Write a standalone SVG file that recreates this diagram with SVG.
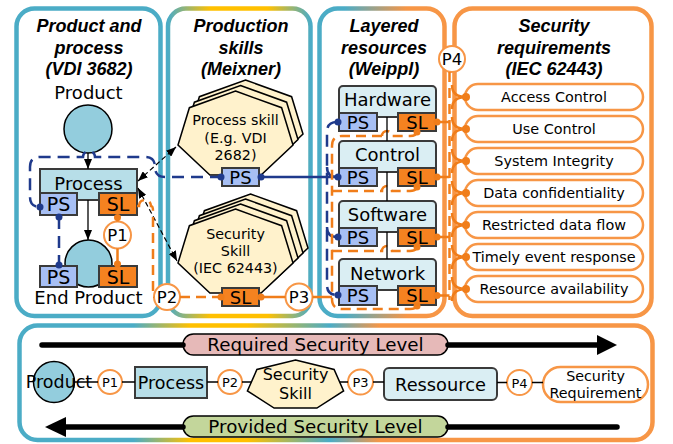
<svg xmlns="http://www.w3.org/2000/svg" width="673" height="444" viewBox="0 0 673 444">
<style>
.tt{font-family:"Liberation Sans",Arial,sans-serif;font-weight:bold;font-style:italic;font-size:18px;text-anchor:middle;fill:#000}
.t{font-family:"DejaVu Sans",Verdana,sans-serif;text-anchor:middle;fill:#000}
.ps{fill:#A7BFF4;stroke:#3A3A3A;stroke-width:2}
.sl{fill:#F58220;stroke:#3A3A3A;stroke-width:2}
.pc{fill:#fff;stroke:#F79646;stroke-width:2}
.req{fill:#fff;stroke:#F79646;stroke-width:2.5}
.res{fill:#DAEEF3;stroke:#3A3A3A;stroke-width:2}
.hex{fill:#FFF2CC;stroke:#000;stroke-width:1.5}
.nv{stroke:#1F3A8C;stroke-width:2.5;fill:none}
.nvd{stroke-dasharray:12 7}
.or{stroke:#F07D1A;stroke-width:2.5;fill:none}
.ord{stroke-dasharray:10 6}
.bd{stroke:#000;stroke-width:1.2;stroke-dasharray:5 3;fill:none}
.bl{stroke:#000;stroke-width:1.3;fill:none}
.nd{fill:#1F3A8C}
.od{fill:#F07D1A}
</style>
<defs>
<linearGradient id="g2" x1="0" y1="0" x2="1" y2="0">
<stop offset="0" stop-color="#4BACC6"/><stop offset="0.3" stop-color="#FFC000"/><stop offset="0.7" stop-color="#FFC000"/><stop offset="1" stop-color="#4BACC6"/>
</linearGradient>
<linearGradient id="g3" x1="0" y1="0" x2="1" y2="0">
<stop offset="0" stop-color="#4BACC6"/><stop offset="0.2" stop-color="#4BACC6"/><stop offset="0.7" stop-color="#F79646"/><stop offset="1" stop-color="#F79646"/>
</linearGradient>
<linearGradient id="g5" x1="0" y1="0" x2="1" y2="0">
<stop offset="0" stop-color="#4BACC6"/><stop offset="0.18" stop-color="#4BACC6"/><stop offset="0.27" stop-color="#FFC000"/><stop offset="0.36" stop-color="#FFC000"/><stop offset="0.49" stop-color="#4BACC6"/><stop offset="0.57" stop-color="#F79646"/><stop offset="1" stop-color="#F79646"/>
</linearGradient>
<polygon id="hep" points="0,-44.2 46.1,-27.5 57.5,9.8 25.6,39.8 -25.6,39.8 -57.5,9.8 -46.1,-27.5"/>
<marker id="ah" markerUnits="userSpaceOnUse" markerWidth="10" markerHeight="8" refX="10" refY="4" orient="auto-start-reverse">
<path d="M0,0 L10,4 L0,8 z" fill="#000"/>
</marker>
</defs>

<g id="panels">
<rect x="16.5" y="8.5" width="144" height="307.5" rx="18" fill="#fff" stroke="#4BACC6" stroke-width="4.5"/>
<rect x="168" y="8.5" width="142.5" height="307.5" rx="18" fill="#fff" stroke="url(#g2)" stroke-width="4.5"/>
<rect x="319.5" y="8.5" width="125" height="307.5" rx="18" fill="#fff" stroke="url(#g3)" stroke-width="4.5"/>
<rect x="454.5" y="8.5" width="197" height="307.5" rx="18" fill="#fff" stroke="#F79646" stroke-width="4.5"/>
<rect x="19.5" y="325.5" width="633" height="114.5" rx="18" fill="#fff" stroke="url(#g5)" stroke-width="4.5"/>
<text class="tt" x="89" y="32">Product and</text>
<text class="tt" x="89" y="53.5">process</text>
<text class="tt" x="89" y="75">(VDI 3682)</text>
<text class="tt" x="241" y="32">Production</text>
<text class="tt" x="241" y="53.5">skills</text>
<text class="tt" x="241" y="75">(Meixner)</text>
<text class="tt" x="384" y="32">Layered</text>
<text class="tt" x="384" y="53.5">resources</text>
<text class="tt" x="384" y="75">(Weippl)</text>
<text class="tt" x="554" y="32">Security</text>
<text class="tt" x="554" y="53.5">requirements</text>
<text class="tt" x="554" y="75">(IEC 62443)</text>
</g>

<g id="product">
<text class="t" x="88.5" y="99" font-size="18">Product</text>
<circle cx="88" cy="129" r="24" fill="#93CDDD" stroke="#000" stroke-width="1.5"/>
</g>
<g id="process">
<rect x="40" y="169" width="97" height="31" fill="#B7DEE8" stroke="#3A3A3A" stroke-width="2"/>
<text class="t" x="88.5" y="189.5" font-size="18">Process</text>
<rect class="ps" x="40" y="193" width="37" height="22"/>
<text class="t" x="58.5" y="211" font-size="19">PS</text>
<rect class="sl" x="99" y="193" width="38" height="22"/>
<text class="t" x="118" y="211" font-size="19">SL</text>
</g>
<g id="end-product">
<circle cx="88.5" cy="263.5" r="23.5" fill="#93CDDD" stroke="#000" stroke-width="1.5"/>
<rect class="ps" x="40" y="266" width="37" height="21"/>
<text class="t" x="58.5" y="283.5" font-size="19">PS</text>
<rect class="sl" x="99" y="266" width="38" height="21"/>
<text class="t" x="118" y="283.5" font-size="19">SL</text>
<text class="t" x="88.5" y="304" font-size="18">End Product</text>
</g>
<g id="p1"><circle class="pc" cx="117.5" cy="235" r="13.5"/><text class="t" x="117.5" y="241" font-size="16.5">P1</text></g>

<g id="process-skill">
<use href="#hep" class="hex" transform="translate(245.5,124.2)"/>
<use href="#hep" class="hex" transform="translate(240.5,129.7)"/>
<use href="#hep" class="hex" transform="translate(235.5,135.2)"/>
<text class="t" x="235.5" y="125" font-size="14.3">Process skill</text>
<text class="t" x="235.5" y="142.5" font-size="14.3">(E.g. VDI</text>
<text class="t" x="235.5" y="160" font-size="14.3">2682)</text>
<rect class="ps" x="222" y="168" width="37" height="18"/>
<text class="t" x="240.5" y="183.5" font-size="18">PS</text>
</g>
<g id="security-skill">
<use href="#hep" class="hex" transform="translate(250.5,238.2)"/>
<use href="#hep" class="hex" transform="translate(245.5,243.2)"/>
<use href="#hep" class="hex" transform="translate(240.5,248.2)"/>
<use href="#hep" class="hex" transform="translate(235.5,253.2)"/>
<text class="t" x="235.5" y="239" font-size="14.3">Security</text>
<text class="t" x="235.5" y="256" font-size="14.3">Skill</text>
<text class="t" x="235.5" y="273" font-size="14.3">(IEC 62443)</text>
<rect class="sl" x="222" y="288" width="37" height="18"/>
<text class="t" x="240.5" y="303.5" font-size="18">SL</text>
</g>
<g id="p2"><circle class="pc" cx="167" cy="297" r="13"/><text class="t" x="167" y="303" font-size="16.5">P2</text></g>
<g id="p3"><circle class="pc" cx="299" cy="297" r="13.5"/><text class="t" x="299" y="303" font-size="16.5">P3</text></g>

<g id="hardware">
<rect class="res" x="339" y="86" width="97" height="31" rx="4"/>
<text class="t" x="387.5" y="106" font-size="18">Hardware</text>
<rect class="ps" x="339" y="113" width="38" height="18"/><text class="t" x="358" y="128.5" font-size="18">PS</text>
<rect class="sl" x="398" y="113" width="38" height="18"/><text class="t" x="417" y="128.5" font-size="18">SL</text>
</g>
<g id="control">
<rect class="res" x="339" y="141" width="97" height="31" rx="4"/>
<text class="t" x="387.5" y="161" font-size="18">Control</text>
<rect class="ps" x="339" y="168" width="38" height="18"/><text class="t" x="358" y="183.5" font-size="18">PS</text>
<rect class="sl" x="398" y="168" width="38" height="18"/><text class="t" x="417" y="183.5" font-size="18">SL</text>
</g>
<g id="software">
<rect class="res" x="339" y="201" width="97" height="31" rx="4"/>
<text class="t" x="387.5" y="221" font-size="18">Software</text>
<rect class="ps" x="339" y="228" width="38" height="18"/><text class="t" x="358" y="243.5" font-size="18">PS</text>
<rect class="sl" x="398" y="228" width="38" height="18"/><text class="t" x="417" y="243.5" font-size="18">SL</text>
</g>
<g id="network">
<rect class="res" x="339" y="259" width="97" height="31" rx="4"/>
<text class="t" x="387.5" y="280" font-size="18">Network</text>
<rect class="ps" x="339" y="286" width="38" height="19"/><text class="t" x="358" y="302" font-size="18">PS</text>
<rect class="sl" x="398" y="286" width="38" height="19"/><text class="t" x="417" y="302" font-size="18">SL</text>
</g>
<g id="p4"><circle class="pc" cx="452" cy="59" r="13"/><text class="t" x="452" y="65" font-size="16.5">P4</text></g>

<g id="requirements">
<rect class="req" x="465" y="84" width="178" height="26" rx="13"/><text class="t" x="554" y="102" font-size="14.4">Access Control</text>
<rect class="req" x="465" y="116" width="178" height="26" rx="13"/><text class="t" x="554" y="134" font-size="14.4">Use Control</text>
<rect class="req" x="465" y="148" width="178" height="26" rx="13"/><text class="t" x="554" y="166" font-size="14.4">System Integrity</text>
<rect class="req" x="465" y="180" width="178" height="26" rx="13"/><text class="t" x="554" y="198" font-size="14.4">Data confidentiality</text>
<rect class="req" x="465" y="212" width="178" height="26" rx="13"/><text class="t" x="554" y="230" font-size="14.4">Restricted data flow</text>
<rect class="req" x="465" y="244" width="178" height="26" rx="13"/><text class="t" x="554" y="262" font-size="14.4">Timely event response</text>
<rect class="req" x="465" y="276" width="178" height="26" rx="13"/><text class="t" x="554" y="294" font-size="14.4">Resource availability</text>
</g>

<g id="legend">
<rect x="183" y="334" width="265" height="21" rx="10.5" fill="#E6B9B8" stroke="#000" stroke-width="1.5"/>
<text class="t" x="315.5" y="351" font-size="18.3">Required Security Level</text>
<rect x="183" y="416" width="265" height="21" rx="10.5" fill="#C3D69B" stroke="#000" stroke-width="1.5"/>
<text class="t" x="315.5" y="433" font-size="18.3">Provided Security Level</text>
<circle cx="54" cy="382" r="20.5" fill="#93CDDD" stroke="#000" stroke-width="1.5"/>
<text class="t" x="59" y="388" font-size="17.5">Product</text>
<circle class="pc" cx="110" cy="382" r="12"/><text class="t" x="110" y="387" font-size="13">P1</text>
<rect x="135" y="367" width="72" height="31" fill="#B7DEE8" stroke="#3A3A3A" stroke-width="2"/>
<text class="t" x="171" y="389" font-size="17.5">Process</text>
<circle class="pc" cx="230" cy="382" r="12"/><text class="t" x="230" y="387" font-size="13">P2</text>
<polygon class="hex" points="295.5,360 334.1,369.5 343.6,390.9 316.9,408.1 274.1,408.1 247.4,390.9 256.9,369.5"/>
<text class="t" x="295.5" y="380" font-size="16">Security</text>
<text class="t" x="295.5" y="399" font-size="16">Skill</text>
<circle class="pc" cx="360.5" cy="382" r="12.5"/><text class="t" x="360.5" y="387" font-size="13">P3</text>
<rect class="res" x="384" y="368" width="113" height="32" rx="5"/>
<text class="t" x="440.5" y="390.5" font-size="17.8">Ressource</text>
<circle class="pc" cx="519.5" cy="382.5" r="12.5"/><text class="t" x="519.5" y="387.5" font-size="13">P4</text>
<rect class="req" x="543" y="367" width="105" height="35" rx="17.5"/>
<text class="t" x="595.5" y="381" font-size="14.3">Security</text>
<text class="t" x="595.5" y="398" font-size="14.3">Requirement</text>
</g>

<g id="connectors">
<!-- black arrows panel 1 -->
<line class="bl" x1="88" y1="153" x2="88" y2="169" marker-end="url(#ah)"/>
<line class="bl" x1="88" y1="200" x2="88" y2="240" marker-end="url(#ah)"/>
<line class="bd" x1="138" y1="181" x2="176" y2="147" marker-start="url(#ah)" marker-end="url(#ah)"/>
<line class="bd" x1="138" y1="188" x2="177" y2="261" marker-start="url(#ah)" marker-end="url(#ah)"/>
<!-- navy PS connections -->
<path class="nv nvd" d="M222,177 L165,177 Q155,177 155,167 Q155,157 145,157 L95,157 A6,6 0 0 0 83,157 L40,157 Q30,157 30,167 L30,197 Q30,207 40,207"/>
<path class="nv nvd" d="M59,217 L59,264"/>
<path class="nv" d="M259,177 L337,177"/>
<path class="nv nvd" d="M337,122 Q327,122 327,132 L327,285 Q327,295 337,295"/>
<path class="nv" d="M327,167 Q327,177 337,177"/>
<path class="nv" d="M327,227 Q327,237 337,237"/>
<circle class="nd" cx="40" cy="207" r="3.5"/>
<circle class="nd" cx="59" cy="217" r="3.5"/>
<circle class="nd" cx="59" cy="265" r="3.5"/>
<circle class="nd" cx="221" cy="177" r="3.5"/>
<circle class="nd" cx="261" cy="177" r="3.5"/>
<circle class="nd" cx="338" cy="122" r="3.5"/>
<circle class="nd" cx="338" cy="177" r="3.5"/>
<circle class="nd" cx="338" cy="237" r="3.5"/>
<circle class="nd" cx="338" cy="295" r="3.5"/>
<!-- orange SL connections -->
<path class="or" d="M117.5,215 L117.5,221.5 M117.5,248.5 L117.5,266"/>
<circle class="od" cx="117.5" cy="217.5" r="3.5"/>
<circle class="od" cx="117.5" cy="264" r="3.5"/>
<path class="or ord" d="M137,206 L139,206 A6,6 0 0 1 151,206 Q153,206 153,211 L153,287 Q153,297 154,297"/>
<path class="or ord" d="M180,297 L222,297"/>
<path class="or" d="M259,297 L285.5,297 M312.5,297 L332,297"/>
<circle class="od" cx="221" cy="297" r="3.5"/>
<circle class="od" cx="261" cy="297" r="3.5"/>
<path class="or ord" d="M382,136 L342,136 Q332,136 332,146 L332,299 Q332,309 342,309 L410,309 Q417,309 417,305"/>
<path class="or ord" d="M382,136 A5,5 0 0 1 392,136 L410,136 Q417,136 417,131"/>
<path class="or ord" d="M332,191 L382,191 A5,5 0 0 1 392,191 L410,191 Q417,191 417,186"/>
<path class="or ord" d="M332,251 L382,251 A5,5 0 0 1 392,251 L410,251 Q417,251 417,246"/>
<circle class="od" cx="417" cy="132" r="3.5"/>
<circle class="od" cx="417" cy="187" r="3.5"/>
<circle class="od" cx="417" cy="247" r="3.5"/>
<circle class="od" cx="417" cy="306" r="3.5"/>
<!-- resource stack line -->
<path class="bl" d="M387,117 L387,141 M387,172 L387,201 M387,232 L387,259"/>
<!-- SL to requirements bus -->
<path class="or ord" stroke-width="2" d="M449.5,72 L449.5,300"/>
<path class="or" d="M436,122 L449.5,122 M436,177 L449.5,177 M436,237 L449.5,237 M436,295.5 L449.5,295.5"/>
<circle class="od" cx="437" cy="122" r="3.5"/>
<circle class="od" cx="437" cy="177" r="3.5"/>
<circle class="od" cx="437" cy="237" r="3.5"/>
<circle class="od" cx="437" cy="295.5" r="3.5"/>
<path class="or" stroke-width="2" d="M452,85 Q452,97 466,97 M452,109 Q452,97 466,97 M452,117 Q452,129 466,129 M452,141 Q452,129 466,129 M452,149 Q452,161 466,161 M452,173 Q452,161 466,161 M452,181 Q452,193 466,193 M452,205 Q452,193 466,193 M452,213 Q452,225 466,225 M452,237 Q452,225 466,225 M452,245 Q452,257 466,257 M452,269 Q452,257 466,257 M452,277 Q452,289 466,289 M452,301 Q452,289 466,289"/>
<circle class="od" cx="466" cy="97" r="4"/>
<circle class="od" cx="466" cy="129" r="4"/>
<circle class="od" cx="466" cy="161" r="4"/>
<circle class="od" cx="466" cy="193" r="4"/>
<circle class="od" cx="466" cy="225" r="4"/>
<circle class="od" cx="466" cy="257" r="4"/>
<circle class="od" cx="466" cy="289" r="4"/>
<!-- legend arrows -->
<path d="M42,345 L183,345 M448,345 L600,345" stroke="#000" stroke-width="5.5" stroke-linecap="round" fill="none"/>
<polygon points="597,335 617,345 597,355" fill="#000"/>
<path d="M62,427 L183,427 M448,427 L617,427" stroke="#000" stroke-width="5.5" stroke-linecap="round" fill="none"/>
<polygon points="66,417 45,427 66,437" fill="#000"/>
<!-- legend chain -->
<path class="bl" d="M74.5,382 L98,382 M122,382 L135,382 M207,382 L218,382 M242,382 L251.4,382 M339.6,382 L348,382 M373,382 L384,382 M497,382.5 L507,382.5 M532,382.5 L543,382.5"/>
</g>
</svg>
